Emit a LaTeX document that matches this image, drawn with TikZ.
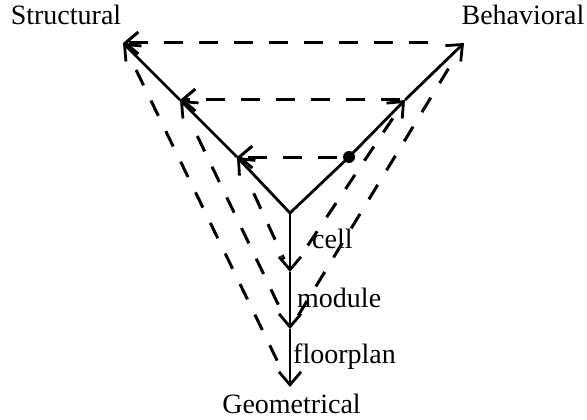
\documentclass[tikz,border=0pt]{standalone}
\usepackage{fontspec}
\setmainfont{Liberation Serif}
\usetikzlibrary{arrows.meta}
\begin{document}
\begin{tikzpicture}[x=1pt,y=-1pt,
  lbl/.style={inner sep=0pt,font=\fontsize{28}{30}\selectfont},
  tip/.style={-{Straight Barb[length=13pt,width=22pt]}},
  solidline/.style={line width=2.8pt},
  dline/.style={line width=3pt,dash pattern=on 19pt off 16pt},
  ddiag/.style={line width=3pt,dash pattern=on 17pt off 17pt}]
\useasboundingbox (0,0) rectangle (587,420);
\coordinate (O) at (290,213);
\coordinate (S1) at (237,157);
\coordinate (S2) at (180,100);
\coordinate (S3) at (123,43);
\coordinate (B1) at (349,157);
\coordinate (B2) at (405,100);
\coordinate (B3) at (464,43);
\coordinate (G1) at (290,272);
\coordinate (G2) at (290,329);
\coordinate (G3) at (290,387);
% solid arms
\draw[solidline,tip] (O) -- (S1);
\draw[solidline,tip] (S1) -- (S2);
\draw[solidline,tip] (S2) -- (S3);
\draw[solidline] (O) -- (B1);
\draw[solidline,tip] (B1) -- (B2);
\draw[solidline,tip] (B2) -- (B3);
\draw[solidline,tip] (O) -- (G1);
\draw[solidline,tip] (G1) -- (G2);
\draw[solidline,tip] (G2) -- (G3);
\node[circle,fill,inner sep=0pt,minimum size=12pt] (dot) at (B1) {};
% horizontal dashed
\draw[dline,tip,shorten <=36pt] (B3) -- (S3);
\draw[dline,tip,shorten <=5pt] (B2) -- (S2);
\draw[dline,tip,shorten <=6pt] (dot) -- (S1);
% diagonal dashed
\draw[ddiag,shorten <=30pt,shorten >=14pt] (S3) -- (G3);
\draw[ddiag,shorten <=40pt,shorten >=14pt] (S2) -- (G2);
\draw[ddiag,shorten <=40pt,shorten >=14pt] (S1) -- (G1);
\draw[ddiag,shorten <=30pt,shorten >=14pt] (B3) -- (G2);
\draw[ddiag,shorten <=22pt,shorten >=14pt] (B2) -- (G1);
% labels
\node[lbl,anchor=base] (struct) at (66,25) {Structural};
\node[lbl,anchor=base] (behav) at (523,25) {Behavioral};
\node[lbl,anchor=base] (geom) at (291.5,413) {Geometrical};
\node[lbl,anchor=base west] (cell) at (312,248) {cell};
\node[lbl,anchor=base west] (module) at (297,307) {module};
\node[lbl,anchor=base west] (floor) at (293,363) {floorplan};
\end{tikzpicture}
\end{document}
